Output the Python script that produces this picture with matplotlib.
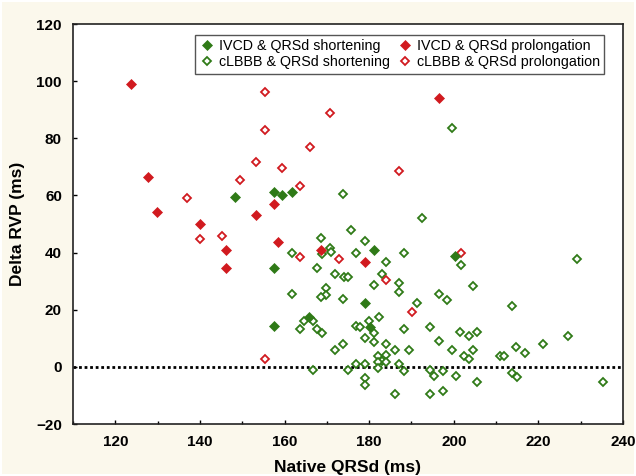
import matplotlib
matplotlib.use("Agg")
import matplotlib.pyplot as plt
from matplotlib.patches import Rectangle
from matplotlib.ticker import MultipleLocator

plt.rcParams['font.family'] = ['Liberation Sans', 'DejaVu Sans']

# IVCD & QRSd shortening (filled green)
ivcd_short_x = [148.3, 157.4, 159.5, 161.7, 157.4, 157.4, 181.1, 179.1, 165.8, 180.2, 200.4]
ivcd_short_y = [59.3, 61.3, 60.2, 61.3, 34.6, 14.2, 40.9, 22.2, 17.6, 13.8, 38.9]

# IVCD & QRSd prolongation (filled red)
ivcd_prol_x = [123.7, 127.8, 129.9, 140.0, 146.2, 146.2, 153.3, 157.4, 158.4, 168.7, 179.0, 196.5]
ivcd_prol_y = [99.1, 66.3, 54.1, 50.0, 40.8, 34.7, 53.1, 57.1, 43.8, 40.9, 36.6, 94.2]

# cLBBB & QRSd prolongation (open red)
clbbb_prol_x = [155.4, 155.4, 153.3, 159.5, 149.4, 137.0, 140.1, 145.2, 155.4, 166.0,
                170.7, 163.6, 187.0, 163.6, 172.8, 184.1, 190.2, 201.6]
clbbb_prol_y = [96.1, 82.8, 71.6, 69.5, 65.4, 59.2, 44.9, 45.9, 2.7, 76.8,
                88.9, 63.4, 68.5, 38.6, 37.7, 30.5, 19.3, 39.7]

# cLBBB & QRSd shortening (open green)
clbbb_short_x = [173.9, 199.5, 192.4, 175.8, 168.7, 179.0, 170.7, 171.0, 161.7, 168.8,
                 177.0, 188.3, 184.1, 201.6, 167.7, 171.9, 174.0, 175.0, 183.1, 181.1,
                 187.0, 187.0, 161.7, 169.8, 169.9, 168.7, 173.9, 204.6, 196.5, 198.5,
                 191.3, 229.1, 213.8, 164.6, 166.8, 163.6, 167.7, 168.9, 176.8, 177.8,
                 179.9, 182.3, 181.1, 179.0, 181.1, 184.1, 186.1, 173.9, 171.9, 182.1,
                 184.1, 183.1, 182.1, 184.1, 187.0, 177.0, 179.0, 166.8, 174.9, 182.1,
                 179.0, 179.0, 186.1, 188.2, 194.3, 201.4, 203.6, 205.6, 196.5, 189.4,
                 199.5, 204.6, 202.5, 203.6, 210.9, 211.9, 188.2, 194.3, 195.4, 197.5,
                 200.5, 205.6, 194.3, 197.5, 227.0, 221.0, 214.8, 216.9, 213.8, 215.0,
                 235.3]
clbbb_short_y = [60.4, 83.7, 52.0, 47.9, 45.0, 44.0, 41.7, 40.3, 39.7, 39.5,
                 39.7, 39.7, 36.6, 35.6, 34.6, 32.5, 31.6, 31.6, 32.6, 28.6,
                 29.4, 26.3, 25.4, 27.5, 25.2, 24.4, 23.6, 28.4, 25.5, 23.4,
                 22.5, 37.6, 21.3, 16.0, 16.0, 13.1, 13.1, 12.0, 14.4, 14.0,
                 16.2, 17.3, 12.0, 10.0, 8.8, 8.1, 5.9, 8.0, 5.9, 3.9,
                 4.2, 2.2, 1.8, 1.7, 1.0, 1.0, 1.0, -1.1, -1.1, -0.5,
                 -4.0, -6.4, -9.5, 13.2, 14.0, 12.1, 10.9, 12.1, 9.2, 5.9,
                 5.9, 5.9, 3.9, 2.9, 3.9, 3.9, -1.3, -1.1, -3.2, -1.5,
                 -3.2, -5.4, -9.5, -8.3, 10.9, 7.9, 6.8, 4.7, -2.3, -3.4,
                 -5.4]

x_ticks = [120, 140, 160, 180, 200, 220, 240]
y_ticks = [-20, 0, 20, 40, 60, 80, 100, 120]

GREEN = '#2F7A17'
RED = '#D11A1F'
CREAM = '#FBF8EC'

fig = plt.figure(figsize=(6.36, 4.76), dpi=100, facecolor='white')
fig.patches.append(Rectangle((2/636, 2/476), 632/636, 472/476, transform=fig.transFigure,
                             facecolor=CREAM, edgecolor='none', zorder=-10))
ax = fig.add_axes([73/636, 52/476, 550/636, 400/476])
ax.set_facecolor('white')

ax.axhline(0, color='black', linestyle=(0, (1, 1)), linewidth=2, zorder=1)

ms = 4.6
ax.plot(clbbb_short_x, clbbb_short_y, linestyle='none', marker='D', markersize=ms - 0.4,
        markerfacecolor='white', markeredgecolor=GREEN, markeredgewidth=1.3, zorder=3,
        label='cLBBB & QRSd shortening')
ax.plot(clbbb_prol_x, clbbb_prol_y, linestyle='none', marker='D', markersize=ms - 0.4,
        markerfacecolor='white', markeredgecolor=RED, markeredgewidth=1.3, zorder=3,
        label='cLBBB & QRSd prolongation')
ax.plot(ivcd_short_x, ivcd_short_y, linestyle='none', marker='D', markersize=ms,
        markerfacecolor=GREEN, markeredgecolor=GREEN, markeredgewidth=0.5, zorder=4,
        label='IVCD & QRSd shortening')
ax.plot(ivcd_prol_x, ivcd_prol_y, linestyle='none', marker='D', markersize=ms,
        markerfacecolor=RED, markeredgecolor=RED, markeredgewidth=0.5, zorder=4,
        label='IVCD & QRSd prolongation')

ax.set_xlim(110, 240)
ax.set_ylim(-20, 120)
ax.set_xticks(x_ticks)
ax.set_yticks(y_ticks)
ax.xaxis.set_minor_locator(MultipleLocator(10))
ax.tick_params(axis='both', which='major', direction='in', length=3, width=1,
               labelsize=11, pad=8)
ax.tick_params(axis='x', which='minor', direction='in', length=2, width=1)
for lab in ax.get_xticklabels() + ax.get_yticklabels():
    lab.set_fontweight('bold')
for sp in ax.spines.values():
    sp.set_linewidth(1.2)
    sp.set_color('#222222')

ax.set_xlabel('Native QRSd (ms)', fontsize=12.5, fontweight='bold', labelpad=8)
ax.set_ylabel('Delta RVP (ms)', fontsize=12.5, fontweight='bold', labelpad=8)

handles, labels = ax.get_legend_handles_labels()
order = [2, 0, 3, 1]
leg = ax.legend([handles[i] for i in order], [labels[i] for i in order], ncol=2,
                loc='upper right', bbox_to_anchor=(0.966, 0.973), borderaxespad=0,
                fontsize=10.3, frameon=True, fancybox=False, handletextpad=0.35,
                columnspacing=0.55, handlelength=1.0, borderpad=0.3, labelspacing=0.15)
leg.get_frame().set_edgecolor('#555555')
leg.get_frame().set_linewidth(1.0)
leg.get_frame().set_facecolor('white')
leg.get_frame().set_alpha(1)

fig.savefig('out.png', dpi=100, facecolor=fig.get_facecolor())
